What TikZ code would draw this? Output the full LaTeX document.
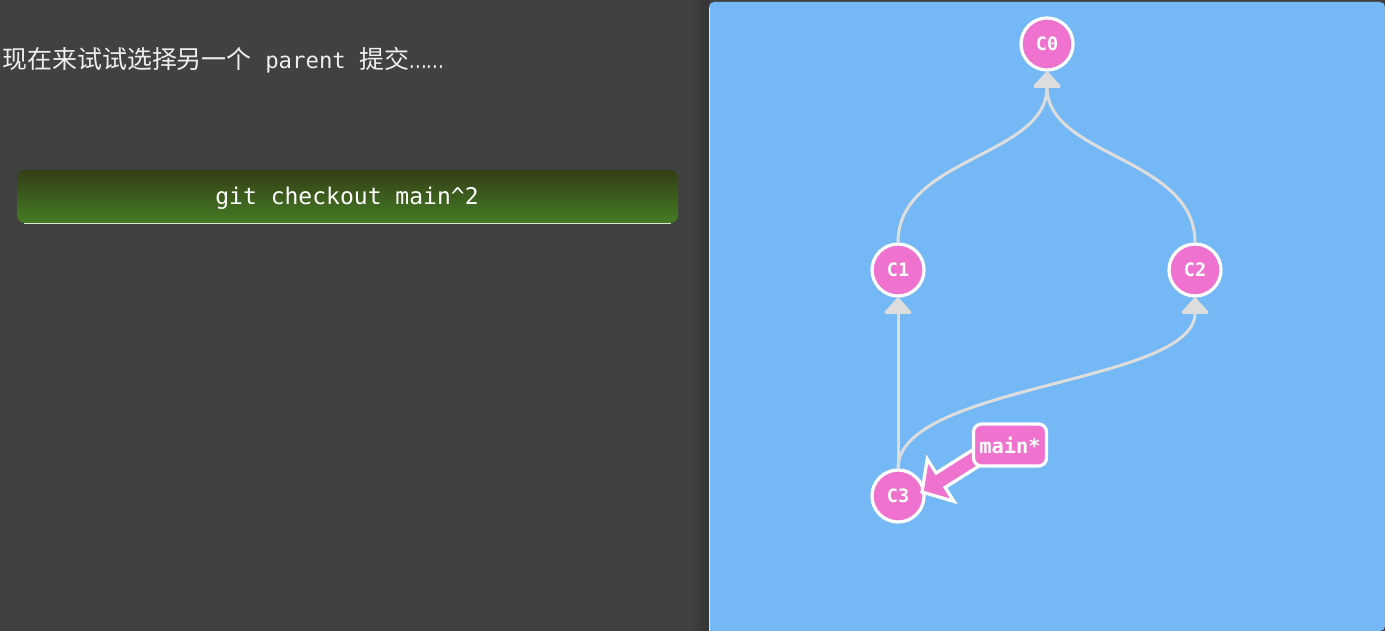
\documentclass[tikz,border=0pt]{standalone}
\usepackage{fontspec}
\setmonofont{DejaVu Sans Mono}
\newfontfamily\cjk{Noto Sans CJK SC}
\usetikzlibrary{arrows.meta, calc, positioning}
\definecolor{BgGray}{RGB}{65,65,65}
\definecolor{ShadowGray}{RGB}{52,52,52}
\definecolor{PanelBlue}{RGB}{116,184,245}
\definecolor{CommitPink}{RGB}{238,114,206}
\definecolor{EdgeGray}{RGB}{221,221,221}
\definecolor{TextGray}{RGB}{238,238,238}
\definecolor{BarTop}{RGB}{52,62,22}
\definecolor{BarBottom}{RGB}{68,124,36}

\begin{document}
\begin{tikzpicture}[x=0.02cm, y=-0.02cm,
	commit/.style={circle, draw=white, fill=CommitPink, line width=0.065cm,
		minimum size=1.04cm, inner sep=0pt, text=white,
		font=\ttfamily\bfseries\fontsize{10.5}{12}\selectfont},
	branch/.style={rectangle, rounded corners=0.16cm, draw=white, fill=CommitPink,
		line width=0.065cm, minimum width=1.46cm, minimum height=0.84cm, inner sep=0pt,
		text=white, font=\ttfamily\bfseries\fontsize{11.6}{13}\selectfont},
	parent/.style={EdgeGray, line width=0.06cm, -{Triangle[width=0.6cm, length=0.34cm, round]}}
	]
	\useasboundingbox (0,0) rectangle (1385,631);
	\fill[BgGray] (0,0) rectangle (1385,631);
	
	% 左侧说明
	\node[anchor=west, text=TextGray, inner sep=0pt] (intro) at (2,60)
		{{\cjk\fontsize{14.2}{16}\selectfont 现在来试试选择另一个}%
		{\ttfamily\fontsize{12.7}{16}\selectfont\ parent\ }%
		{\cjk\fontsize{14.2}{16}\selectfont 提交\scalebox{0.65}[1]{……}}};
	
	% 命令条
	\shade[top color=BarTop, bottom color=BarBottom, rounded corners=0.16cm]
		(17,170) rectangle (678,223);
	\draw[white!80!BarBottom, line width=0.4pt] (24,223) -- (671,223);
	\node[text=white, font=\ttfamily\fontsize{13.1}{16}\selectfont] (cmd) at (347,198)
		{git checkout main\textasciicircum 2};
	
	% 右侧画布
	\shade[left color=BgGray, right color=ShadowGray] (690,0) rectangle (709,631);
	\fill[PanelBlue, rounded corners=0.1cm] (709,631) -- (709,2) -- (1385,2) -- (1385,631) [sharp corners] -- cycle;
	\draw[white!70!PanelBlue, line width=0.4pt] (709.5,631) -- (709.5,8);
	
	% 提交节点
	\node[commit] (c0) at (1047,44) {C0};
	\node[commit] (c1) at (898,270) {C1};
	\node[commit] (c2) at (1195,270) {C2};
	\node[commit] (c3) at (898,496) {C3};
	
	% 父提交的连线
	\draw[parent] (c1.north) .. controls (898,157) and (1047,157) .. (c0.south);
	\draw[parent] (c2.north) .. controls (1195,157) and (1047,157) .. (c0.south);
	\draw[parent] (c3.north) -- (c1.south);
	\draw[parent] (c3.north) .. controls (898,384) and (1195,384) .. (c2.south);
	
	% 分支 main*
	\coordinate (mt) at (922,492);
	\coordinate (mb) at (990,449);
	\coordinate (hb) at ($(mt)!0.44cm!(mb)$);
	\filldraw[fill=CommitPink, draw=white, line width=0.065cm, line join=miter]
		(mt) -- ($(hb)!0.5cm!90:(mt)$) -- ($(hb)!0.17cm!90:(mt)$)
		-- ($(mb)!0.17cm!90:(mt)$) -- ($(mb)!0.17cm!-90:(mt)$)
		-- ($(hb)!0.17cm!-90:(mt)$) -- ($(hb)!0.5cm!-90:(mt)$) -- cycle;
	\node[branch] (main) at (1010,445) {main*};
\end{tikzpicture}
\end{document}
